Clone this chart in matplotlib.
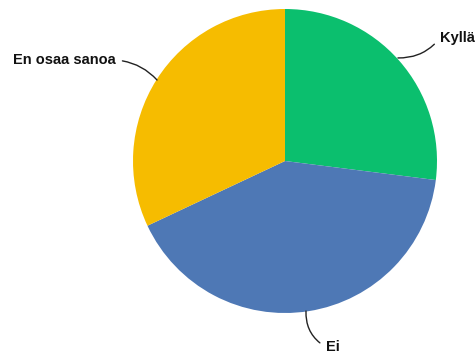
import matplotlib.pyplot as plt

labels = ['Kyllä', 'Ei', 'En osaa sanoa']
values = [27, 41, 32]
colors = ['#0BBF6E', '#4E78B5', '#F6BC00']

fig = plt.figure(figsize=(4.77, 3.54), dpi=100)
ax = fig.add_axes([133 / 477, 41 / 354, 304 / 477, 304 / 354])

wedges, _ = ax.pie(values, colors=colors, startangle=90, counterclock=False,
                   radius=1.0, wedgeprops=dict(linewidth=0))
ax.set_xlim(-1, 1)
ax.set_ylim(-1, 1)
ax.axis('off')

font = dict(fontsize=10.5, fontweight='bold', color='#111111', family='Liberation Sans')
line = dict(arrowstyle='-', color='#222222', lw=1.0, shrinkA=3, shrinkB=0)

# curved leader lines from the wedge edge to each label
ax.annotate(labels[0], xy=(0.743, 0.678), xytext=(1.02, 0.81),
            ha='left', va='center', annotation_clip=False,
            arrowprops=dict(line, relpos=(0, 0.5), connectionstyle='arc3,rad=-0.25'),
            **font)
ax.annotate(labels[1], xy=(0.138, -0.987), xytext=(0.27, -1.224),
            ha='left', va='center', annotation_clip=False,
            arrowprops=dict(line, relpos=(0, 0.5), connectionstyle='arc3,rad=-0.3'),
            **font)
ax.annotate(labels[2], xy=(-0.842, 0.533), xytext=(-1.115, 0.664),
            ha='right', va='center', annotation_clip=False,
            arrowprops=dict(line, relpos=(1, 0.5), connectionstyle='arc3,rad=-0.2'),
            **font)

fig.savefig('out.png', dpi=100)
